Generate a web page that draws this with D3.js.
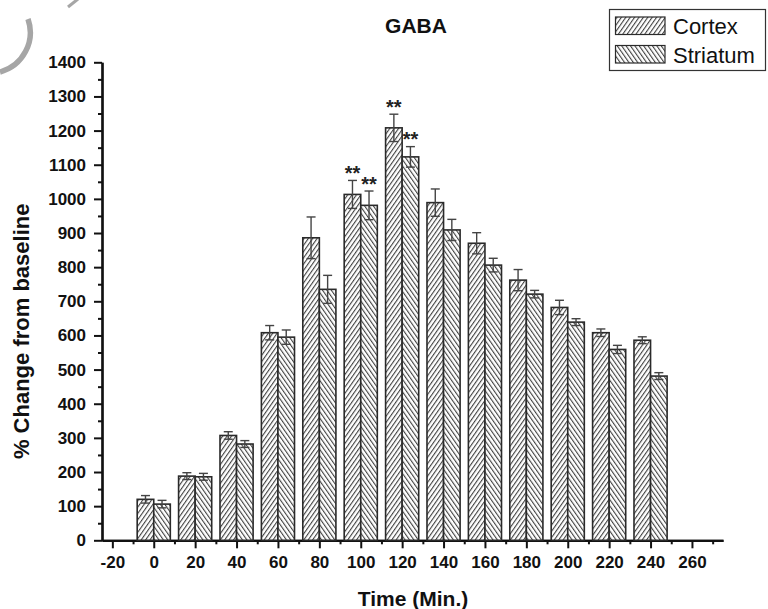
<!DOCTYPE html>
<html>
<head>
<meta charset="utf-8">
<script src="https://cdn.jsdelivr.net/npm/d3@7/dist/d3.min.js"></script>
<style>
  html, body { margin: 0; padding: 0; background: #fff; }
  svg { display: block; font-family: "Liberation Sans", Arial, sans-serif; }
</style>
</head>
<body>
<svg id="chart" width="768" height="609"></svg>
<script>
// Sampling times (minutes)
const times = [0, 20, 40, 60, 80, 100, 120, 140, 160, 180, 200, 220, 240];
// GABA level, % change from baseline (mean) and error
const cortex      = [120, 188, 307, 608, 886, 1013, 1208, 989, 870, 762, 682, 608, 586];
const cortexErr   = [11, 10, 11, 21, 61, 41, 40, 40, 31, 31, 21, 11, 10];
const striatum    = [106, 186, 282, 595, 735, 981, 1123, 909, 806, 721, 639, 559, 481];
const striatumErr = [11, 10, 10, 21, 41, 42, 30, 31, 20, 11, 10, 12, 10];
// Time points marked as significant (**)
const cortexSig   = [100, 120];
const striatumSig = [100, 120];
// Axis ticks
const xTicks = [-20, 0, 20, 40, 60, 80, 100, 120, 140, 160, 180, 200, 220, 240, 260];
const yTicks = [0, 100, 200, 300, 400, 500, 600, 700, 800, 900, 1000, 1100, 1200, 1300, 1400];
const seriesNames = ["Cortex", "Striatum"];

const svg = d3.select("#chart");
const x = d3.scaleLinear().domain([-25, 275]).range([102, 723]);
const y = d3.scaleLinear().domain([0, 1400]).range([540.3, 62.3]);
const halfWidth = 8; // bar width in minutes

// Hatch patterns
const defs = svg.append("defs");
function hatch(id, angle) {
  const p = defs.append("pattern")
    .attr("id", id)
    .attr("patternUnits", "userSpaceOnUse")
    .attr("width", 3.6).attr("height", 10)
    .attr("patternTransform", `rotate(${angle})`);
  p.append("rect").attr("width", 3.6).attr("height", 10).attr("fill", "#fff");
  p.append("line").attr("x1", 0.6).attr("x2", 0.6).attr("y1", 0).attr("y2", 10)
    .attr("stroke", "#222").attr("stroke-width", 0.95);
}
hatch("hatch-cortex", 35);
hatch("hatch-striatum", -35);

// Corner decoration
svg.append("path")
  .attr("d", "M 28 19 A 41 41 0 0 1 0 72")
  .attr("fill", "none").attr("stroke", "#a6a6a6").attr("stroke-width", 5.5);
svg.append("line")
  .attr("x1", 68).attr("y1", 7).attr("x2", 78).attr("y2", -1)
  .attr("stroke", "#a6a6a6").attr("stroke-width", 3);

// Axes
const axisFont = "17px";
const plain = d => String(d);
const xAxis = svg.append("g").attr("transform", `translate(0,${y(0)})`)
  .call(d3.axisBottom(x).tickValues(xTicks).tickSize(8).tickSizeOuter(0).tickPadding(8).tickFormat(plain));
const xMinor = svg.append("g").attr("transform", `translate(0,${y(0)})`)
  .call(d3.axisBottom(x).tickValues(d3.range(-10, 275, 20)).tickSize(4).tickSizeOuter(0).tickFormat(""));
const yAxis = svg.append("g").attr("transform", `translate(${x(-25)},0)`)
  .call(d3.axisLeft(y).tickValues(yTicks).tickSize(8).tickSizeOuter(0).tickPadding(8).tickFormat(plain));
const yMinor = svg.append("g").attr("transform", `translate(${x(-25)},0)`)
  .call(d3.axisLeft(y).tickValues(d3.range(50, 1400, 100)).tickSize(4).tickSizeOuter(0).tickFormat(""));

[xAxis, xMinor, yAxis, yMinor].forEach(g => {
  g.select(".domain").attr("stroke", "#111").attr("stroke-width", 2.2);
  g.selectAll(".tick line").attr("stroke", "#111").attr("stroke-width", 2);
  g.selectAll(".tick text").attr("fill", "#111")
    .style("font-family", "'Liberation Sans', Arial, sans-serif")
    .style("font-size", axisFont).style("font-weight", "bold");
});

// Bars
const rows = times.map((t, i) => ({
  t,
  values: [
    { key: "cortex", x0: t - halfWidth, x1: t, v: cortex[i], e: cortexErr[i], sig: cortexSig.includes(t) },
    { key: "striatum", x0: t, x1: t + halfWidth, v: striatum[i], e: striatumErr[i], sig: striatumSig.includes(t) }
  ]
}));
const marks = rows.flatMap(r => r.values);

const bars = svg.append("g");
bars.selectAll("rect").data(marks).join("rect")
  .attr("x", d => x(d.x0))
  .attr("y", d => y(d.v))
  .attr("width", d => x(d.x1) - x(d.x0))
  .attr("height", d => y(0) - y(d.v))
  .attr("fill", d => `url(#hatch-${d.key})`)
  .attr("stroke", "#2a2a2a").attr("stroke-width", 1.6);

// Error bars
const capHalf = 4.5;
const err = svg.append("g").attr("stroke", "#444").attr("stroke-width", 1.4);
marks.forEach(d => {
  const cx = (x(d.x0) + x(d.x1)) / 2;
  const top = y(d.v + d.e), bot = y(d.v - d.e);
  err.append("line").attr("x1", cx).attr("x2", cx).attr("y1", top).attr("y2", bot);
  err.append("line").attr("x1", cx - capHalf).attr("x2", cx + capHalf).attr("y1", top).attr("y2", top);
  err.append("line").attr("x1", cx - capHalf).attr("x2", cx + capHalf).attr("y1", bot).attr("y2", bot);
});

// Significance stars
svg.append("g").selectAll("text").data(marks.filter(d => d.sig)).join("text")
  .attr("x", d => (x(d.x0) + x(d.x1)) / 2)
  .attr("y", d => y(d.v + d.e) - 0.5)
  .attr("text-anchor", "middle")
  .style("font-size", "20px").style("font-weight", "bold").attr("fill", "#222")
  .text("**");

// Title and axis labels
svg.append("text").attr("x", 416).attr("y", 33.3).attr("text-anchor", "middle")
  .style("font-size", "21px").style("font-weight", "bold").attr("fill", "#111").text("GABA");
svg.append("text").attr("x", 413).attr("y", 606).attr("text-anchor", "middle")
  .style("font-size", "21px").style("font-weight", "bold").attr("fill", "#111").text("Time (Min.)");
svg.append("text").attr("transform", `translate(29,${(y(0) + y(1400)) / 2 + 30}) rotate(-90)`)
  .attr("text-anchor", "middle")
  .style("font-size", "22px").style("font-weight", "bold").attr("fill", "#111").text("% Change from baseline");

// Legend
const legend = svg.append("g");
legend.append("rect").attr("x", 609.5).attr("y", 9.5).attr("width", 156).attr("height", 61)
  .attr("fill", "#fff").attr("stroke", "#333").attr("stroke-width", 1.2);
const legendKeys = ["cortex", "striatum"];
seriesNames.forEach((name, i) => {
  const yy = 17 + i * 28.5;
  legend.append("rect").attr("x", 615.5).attr("y", yy).attr("width", 49.5).attr("height", 17.5)
    .attr("fill", `url(#hatch-${legendKeys[i]})`).attr("stroke", "#2a2a2a").attr("stroke-width", 1.2);
  legend.append("text").attr("x", 673).attr("y", yy + 17)
    .style("font-size", "22px").attr("fill", "#111").text(name);
});
</script>
</body>
</html>
